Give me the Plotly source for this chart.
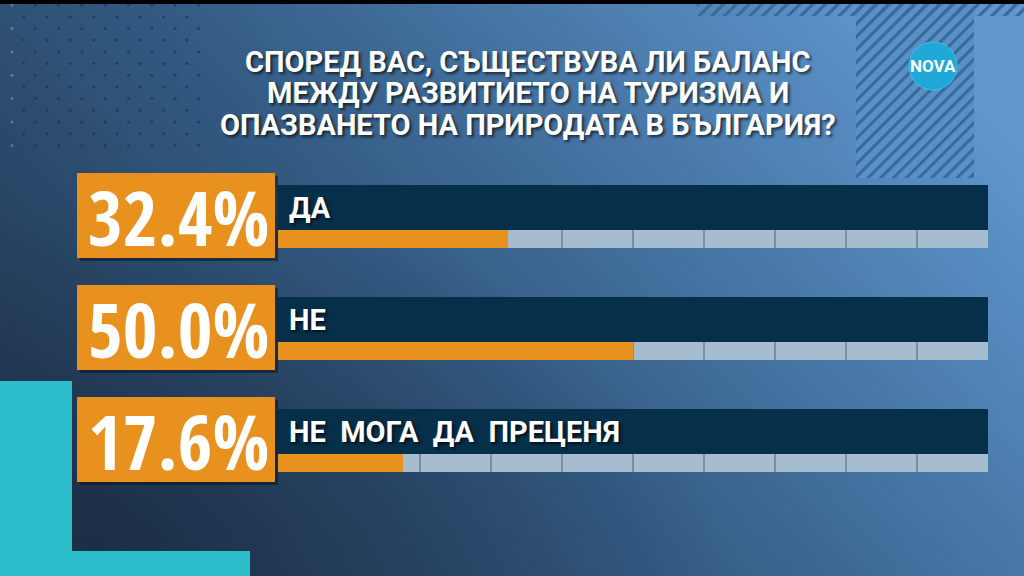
import base64
import plotly.graph_objects as go

# ---------------- data ----------------
categories = ["ДА", "НЕ", "НЕ МОГА ДА ПРЕЦЕНЯ"]
values = [32.4, 50.0, 17.6]
title_lines = [
    "СПОРЕД ВАС, СЪЩЕСТВУВА ЛИ БАЛАНС",
    "МЕЖДУ РАЗВИТИЕТО НА ТУРИЗМА И",
    "ОПАЗВАНЕТО НА ПРИРОДАТА В БЪЛГАРИЯ?",
]
scale_max = 100
n_segments = 10

# ---------------- geometry / style ----------------
W, H = 1024, 576
X0PX, X1PX = 278, 988                  # pixel span of 0..100
K = (X1PX - X0PX) / scale_max          # px per unit
ROW = 112.0                            # px between rows
ROW0 = 239.0                           # pixel centre of first strip
FONT = "Roboto, DejaVu Sans, sans-serif"
PCT_FONT = "Open Sans Condensed, Roboto, sans-serif"
SHADOW = "2px 2px 3px rgba(0,0,0,0.65)"

ORANGE = "#e8911f"
NAVY = "#062f4a"
STRIP = "#a6bccf"
SEP = "#7c8f9d"


def u(px):
    return px / ROW


# ---------------- background (svg) ----------------
dots = []
r = 0
yy = 5.0
while yy <= 146:
    off = 0 if r % 2 == 0 else 11.7
    xx = 12 + off
    while xx <= 200:
        col = "#6d8fb0" if xx < 20 else "#1b3550"
        dots.append(f'<circle cx="{xx:.1f}" cy="{yy:.1f}" r="1.5" fill="{col}" opacity="0.7"/>')
        xx += 23.3
    yy += 11.7
    r += 1

svg = f'''<svg xmlns="http://www.w3.org/2000/svg" width="{W}" height="{H}" viewBox="0 0 {W} {H}">
<defs>
<linearGradient id="g" x1="0" y1="0.75" x2="1" y2="0.25">
<stop offset="0" stop-color="#213852"/>
<stop offset="0.45" stop-color="#355d86"/>
<stop offset="1" stop-color="#5f97ce"/>
</linearGradient>
<radialGradient id="v" cx="0.1" cy="0.95" r="0.6">
<stop offset="0" stop-color="#16263a" stop-opacity="0.5"/>
<stop offset="1" stop-color="#16263a" stop-opacity="0"/>
</radialGradient>
<pattern id="s" width="9" height="9" patternUnits="userSpaceOnUse" patternTransform="rotate(45)">
<rect x="0" y="0" width="3.2" height="9" fill="#3a6a9a"/>
</pattern>
</defs>
<rect width="{W}" height="{H}" fill="url(#g)"/>
<rect width="{W}" height="{H}" fill="url(#v)"/>
<rect x="856" y="0" width="118" height="178" fill="#5990c7"/>
<rect x="856" y="0" width="118" height="178" fill="url(#s)"/>
<rect x="697" y="4" width="327" height="12" fill="url(#s)"/>
{''.join(dots)}
<rect x="0" y="0" width="{W}" height="4" fill="#000"/>
<rect x="0" y="381" width="72" height="195" fill="#2ebdcb"/>
<rect x="0" y="551" width="250" height="25" fill="#2ebdcb"/>
</svg>'''
bg_uri = "data:image/svg+xml;base64," + base64.b64encode(svg.encode("utf-8")).decode()

fig = go.Figure()

# dark label bars
fig.add_trace(go.Bar(
    y=categories, x=[scale_max] * len(categories), base=0, orientation="h",
    offset=u(-54), width=u(45), marker=dict(color=NAVY, line_width=0),
    hoverinfo="skip", showlegend=False))

# separator-coloured strip underneath
fig.add_trace(go.Bar(
    y=categories, x=[scale_max] * len(categories), base=0, orientation="h",
    offset=u(-9), width=u(18), marker=dict(color=SEP, line_width=0),
    hoverinfo="skip", showlegend=False))

# grey segments
seg = scale_max / n_segments
gap = 1.0 / K
seg_y, seg_x, seg_b = [], [], []
for c in categories:
    for k in range(n_segments):
        lo = k * seg + (gap if k > 0 else 0)
        hi = (k + 1) * seg - (gap if k < n_segments - 1 else 0)
        seg_y.append(c)
        seg_b.append(lo)
        seg_x.append(hi - lo)
fig.add_trace(go.Bar(
    y=seg_y, x=seg_x, base=seg_b, orientation="h",
    offset=u(-9), width=u(18), marker=dict(color=STRIP, line_width=0),
    hoverinfo="skip", showlegend=False))

# orange value fill
fig.add_trace(go.Bar(
    y=categories, x=values, base=0, orientation="h",
    offset=u(-9), width=u(18), marker=dict(color=ORANGE, line_width=0),
    hoverinfo="skip", showlegend=False))

# percent boxes (shadow + box)
box_l, box_r = (77 - X0PX) / K, (275 - X0PX) / K
fig.add_trace(go.Bar(
    y=categories, x=[box_r - box_l] * len(categories), base=box_l + 3 / K,
    orientation="h", offset=u(-66 + 3), width=u(85),
    marker=dict(color="rgba(10,20,35,0.55)", line_width=0),
    hoverinfo="skip", showlegend=False))
fig.add_trace(go.Bar(
    y=categories, x=[box_r - box_l] * len(categories), base=box_l,
    orientation="h", offset=u(-66), width=u(85),
    marker=dict(color=ORANGE, line_width=0),
    hoverinfo="skip", showlegend=False))

annotations = []
for c, v in zip(categories, values):
    annotations.append(dict(
        x=(178 - X0PX) / K, y=c, xref="x", yref="y", yshift=22,
        text=f"{v:.1f}%", showarrow=False, xanchor="center", yanchor="middle",
        font=dict(family=PCT_FONT, size=75, color="white", weight="bold")))
    annotations.append(dict(
        x=(287 - X0PX) / K, y=c, xref="x", yref="y", yshift=31.5,
        text="  ".join(c.split(" ")), showarrow=False, xanchor="left", yanchor="middle",
        font=dict(family=FONT, size=29, color="white", weight="bold", shadow=SHADOW)))

title_y = [62, 93.5, 125]
for line, py in zip(title_lines, title_y):
    annotations.append(dict(
        x=528 / W, y=1 - py / H, xref="paper", yref="paper", text=line,
        showarrow=False, xanchor="center", yanchor="middle",
        font=dict(family=FONT, size=29, color="white", weight="bold", shadow=SHADOW)))

# NOVA logo
annotations.append(dict(
    x=933 / W, y=1 - 66 / H, xref="paper", yref="paper", text="NOVA",
    showarrow=False, xanchor="center", yanchor="middle",
    font=dict(family=FONT, size=17, color="white", weight="bold")))

shapes = [dict(
    type="circle", xref="paper", yref="paper", layer="above",
    x0=909 / W, x1=957 / W, y0=1 - 90 / H, y1=1 - 42 / H,
    fillcolor="#1fa8d8", line=dict(color="#3cc0e8", width=1))]

fig.update_layout(
    width=W, height=H, margin=dict(l=0, r=0, t=0, b=0),
    paper_bgcolor="#355d86", plot_bgcolor="rgba(0,0,0,0)",
    barmode="overlay", bargap=0,
    xaxis=dict(domain=[0, 1], range=[-X0PX / K, (W - X0PX) / K],
               visible=False, fixedrange=True),
    yaxis=dict(domain=[0, 1], type="category", categoryorder="array",
               categoryarray=categories,
               range=[(H - ROW0) / ROW, -ROW0 / ROW],
               visible=False, fixedrange=True),
    images=[dict(source=bg_uri, xref="paper", yref="paper", x=0, y=1,
                 sizex=1, sizey=1, sizing="stretch", layer="below",
                 xanchor="left", yanchor="top")],
    annotations=annotations, shapes=shapes, showlegend=False,
)

fig.write_html("out.html", config={"displayModeBar": False},
               post_script="document.body.style.margin='0';document.body.style.overflow='hidden';")
